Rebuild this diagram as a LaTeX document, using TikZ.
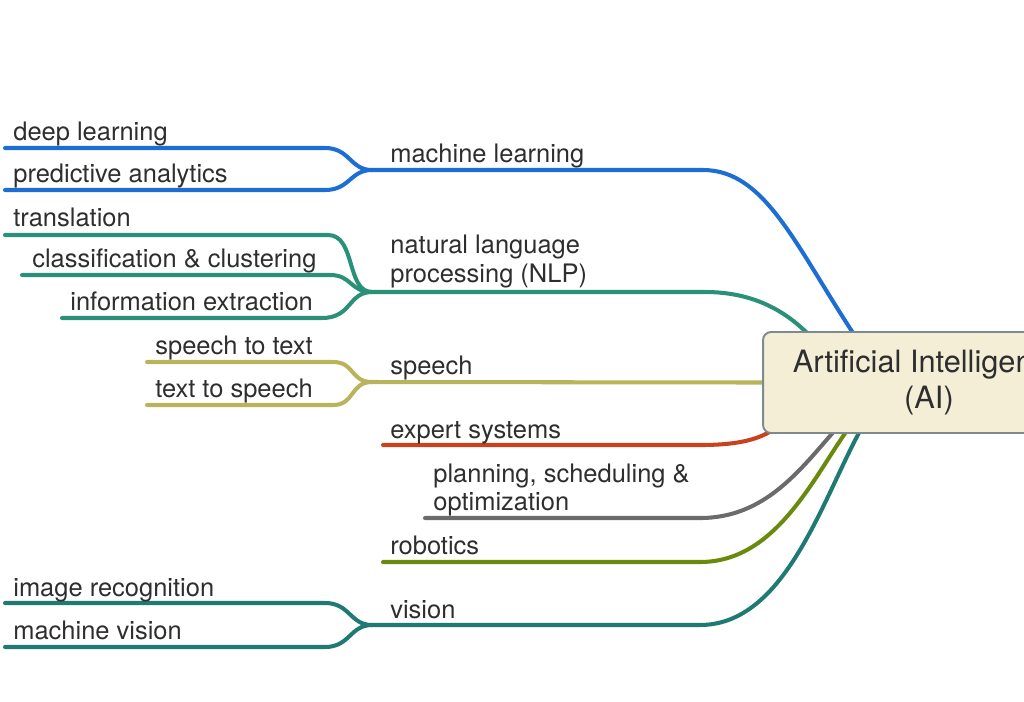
\documentclass[tikz,border=0pt]{standalone}
\usepackage{fontspec}
\setmainfont{TeX Gyre Heros}
\usepackage{xcolor}
\usepackage{tikz}
\usetikzlibrary{calc,backgrounds}

\definecolor{mlblue}{RGB}{28,110,212}
\definecolor{nlpteal}{RGB}{42,144,121}
\definecolor{speecholive}{RGB}{185,180,92}
\definecolor{expertred}{RGB}{200,66,30}
\definecolor{plangray}{RGB}{107,107,107}
\definecolor{robogreen}{RGB}{106,138,14}
\definecolor{visteal}{RGB}{30,122,114}
\definecolor{textgray}{RGB}{46,46,46}
\definecolor{boxfill}{RGB}{243,238,213}
\definecolor{boxline}{RGB}{125,139,143}

\begin{document}
\begin{tikzpicture}[x=0.02cm, y=-0.02cm]
  % Define styles
  \tikzstyle{leaf}=[anchor=base west, inner sep=0pt, text=textgray, font=\fontsize{14.5}{17}\selectfont]
  \tikzstyle{topic}=[leaf]
  \tikzstyle{root}=[rectangle, rounded corners=0.16cm, draw=boxline, line width=1.1pt, fill=boxfill,
                    minimum width=6.64cm, minimum height=2.02cm, align=center, inner sep=0pt,
                    text=textgray, font=\fontsize{17.5}{21}\selectfont]
  \tikzstyle{branch}=[line width=2.3pt, line cap=round]

  \useasboundingbox (0,0) rectangle (1024,701);
  \clip (0,0) rectangle (1024,701);

  % Root
  \node[root] (ai) at (929,382.5) {Artificial Intelligence\\(AI)};

  % Topics
  \node[topic] (ml)     at (390,162) {machine learning};
  \node[topic] (nlp)    at (390,253) {natural language};
  \node[topic] (nlpb)   at (390,282) {processing (NLP)};
  \node[topic] (speech) at (390,374) {speech};
  \node[topic] (expert) at (390,438) {expert systems};
  \node[topic] (plan)   at (433,482) {planning, scheduling \&};
  \node[topic] (planb)  at (433,510) {optimization};
  \node[topic] (robot)  at (390,554) {robotics};
  \node[topic] (vision) at (390,618) {vision};

  % Leaves
  \node[leaf] (deep)    at (13,140)  {deep learning};
  \node[leaf] (predict) at (13,182)  {predictive analytics};
  \node[leaf] (transl)  at (13,226)  {translation};
  \node[leaf] (classif) at (32,267)  {classification \& clustering};
  \node[leaf] (inform)  at (70,310)  {information extraction};
  \node[leaf] (stt)     at (155,354) {speech to text};
  \node[leaf] (tts)     at (155,397) {text to speech};
  \node[leaf] (imgrec)  at (13,596)  {image recognition};
  \node[leaf] (machvis) at (13,639)  {machine vision};

  % Junctions and free ends
  \coordinate (mlj)  at (372,170);
  \coordinate (nlpj) at (372,292);
  \coordinate (spj)  at (372,382);
  \coordinate (visj) at (372,625);
  \coordinate (deep0)    at (5,148);
  \coordinate (predict0) at (5,190);
  \coordinate (transl0)  at (5,235);
  \coordinate (classif0) at (22,275);
  \coordinate (inform0)  at (62,318);
  \coordinate (stt0)     at (147,362);
  \coordinate (tts0)     at (147,405);
  \coordinate (expert0)  at (383,445);
  \coordinate (plan0)    at (425,518);
  \coordinate (robot0)   at (383,562);
  \coordinate (imgrec0)  at (5,603);
  \coordinate (machvis0) at (5,647);

  % Edges
  \begin{scope}[on background layer]
    \draw[branch, mlblue] (deep0) -- (325,148) .. controls (350,148) and (350,170) .. (mlj);
    \draw[branch, mlblue] (predict0) -- (325,190) .. controls (350,190) and (350,170) .. (mlj);
    \draw[branch, mlblue] (mlj) -- (703,170) .. controls (765,170) and (795,245) .. ($(ai.north west)+(93,5)$);

    \draw[branch, nlpteal] (transl0) -- (328,235) .. controls (356,235) and (346,292) .. (nlpj);
    \draw[branch, nlpteal] (classif0) -- (330,275) .. controls (352,275) and (350,292) .. (nlpj);
    \draw[branch, nlpteal] (inform0) -- (322,318) .. controls (352,318) and (348,292) .. (nlpj);
    \draw[branch, nlpteal] (nlpj) -- (705,292) .. controls (752,292) and (785,310) .. ($(ai.north west)+(48,5)$);

    \draw[branch, speecholive] (stt0) -- (333,362) .. controls (355,362) and (350,382) .. (spj);
    \draw[branch, speecholive] (tts0) -- (333,405) .. controls (355,405) and (350,382) .. (spj);
    \draw[branch, speecholive] (spj) -- (ai.west);

    \draw[branch, expertred] (expert0) -- (700,445) .. controls (740,445) and (760,439) .. ($(ai.south west)+(14,-6)$);
    \draw[branch, plangray] (plan0) -- (700,518) .. controls (765,518) and (800,470) .. ($(ai.south west)+(74,-5)$);
    \draw[branch, robogreen] (robot0) -- (700,562) .. controls (775,562) and (812,480) .. ($(ai.south west)+(86,-5)$);

    \draw[branch, visteal] (imgrec0) -- (325,603) .. controls (350,603) and (350,625) .. (visj);
    \draw[branch, visteal] (machvis0) -- (325,647) .. controls (350,647) and (350,625) .. (visj);
    \draw[branch, visteal] (visj) -- (700,625) .. controls (785,625) and (822,500) .. ($(ai.south west)+(99,-5)$);
  \end{scope}
\end{tikzpicture}
\end{document}
